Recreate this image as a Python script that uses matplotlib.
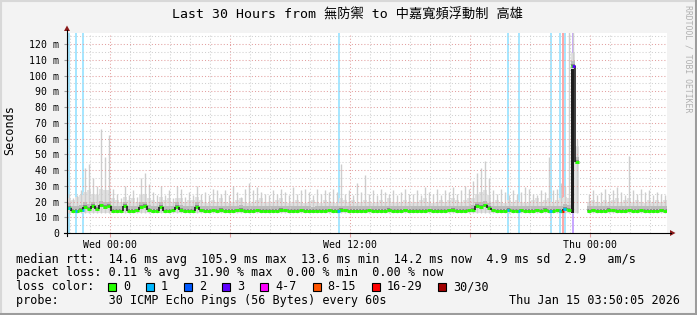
import numpy as np
import matplotlib
matplotlib.use('Agg')
import matplotlib.pyplot as plt
from matplotlib.lines import Line2D
from matplotlib.patches import Polygon, Rectangle

W, H = 697, 315

# time axis: hours relative to Wed 00:00, one bin = 12 minutes
start_hour = -2.15
bin_hours = 0.2

median_ms = [
    16.0, 14.2, 14.2, 14.5, 16.5, 15.5, 17.0, 15.0, 17.5, 16.5, 17.0, 14.2, 14.0, 14.2, 17.0, 14.2,
    14.0, 14.3, 16.5, 17.0, 14.5, 14.0, 14.2, 16.5, 14.2, 14.0, 14.3, 16.5, 14.5, 14.0, 14.2, 14.0,
    16.5, 14.3,
    14.2, 14.0, 14.3, 14.1, 14.4, 14.2, 14.0, 14.1, 14.3, 14.5, 14.2, 14.0, 14.1, 14.3, 14.2, 14.0,
    13.9, 14.1, 14.2, 14.4, 14.3, 14.1, 14.0, 14.2, 14.3, 14.1, 14.0, 13.8, 14.0, 14.2, 14.1, 14.3,
    14.2, 14.0, 14.4, 14.3, 14.1, 14.2, 14.0, 13.9, 14.1, 14.3, 14.2, 14.0, 14.1, 14.2, 14.4, 14.2,
    14.0, 14.1, 14.3, 14.2, 14.0, 13.9, 14.1, 14.2, 14.3, 14.1, 14.0, 14.2, 14.1, 14.3, 14.4, 14.2,
    14.0, 14.1, 14.3,
    14.5, 17.0, 16.5, 17.5, 16.0,
    14.3, 14.1, 14.2, 14.0, 14.4, 14.2, 14.1, 14.3, 14.2, 14.0, 14.1, 14.3, 14.2, 14.4, 14.1, 14.2,
    14.3, 14.0, 15.5, 14.5,
    106.0, 45.0, np.nan, np.nan,
    14.2, 14.3, 14.1, 14.0, 14.2, 14.4, 14.3, 14.1, 14.2, 14.0, 14.3, 14.2, 14.1, 14.3, 14.2, 14.0,
    14.2, 14.1, 14.3, 14.2,
]

smoke_mid_ms = [
    22, 21, 23, 24, 26, 27, 25, 24, 28, 27, 27, 22, 21, 20, 23, 21,
    22, 20, 24, 25, 22, 21, 20, 23, 21, 22, 20, 22, 22, 20, 21, 21,
    23, 21,
    20, 19, 21, 20, 22, 20, 19, 20, 21, 22, 20, 19, 20, 21, 22, 20,
    19, 20, 21, 22, 20, 19, 20, 21, 20, 19, 20, 21, 20, 19, 21, 20,
    20, 19, 22, 21, 20, 21, 19, 20, 21, 20, 19, 20, 21, 20, 22, 20,
    19, 20, 21, 20, 19, 20, 21, 22, 20, 19, 20, 21, 20, 21, 22, 21,
    20, 21, 22,
    22, 25, 26, 27, 24,
    20, 21, 20, 19, 21, 20, 21, 20, 19, 20, 21, 22, 20, 21, 22, 20,
    21, 22, 23, 22,
    114, 55, np.nan, np.nan,
    20, 21, 20, 19, 21, 20, 21, 22, 20, 21, 22, 20, 21, 20, 19, 21,
    20, 21, 20, 21,
]

smoke_max_ms = [
    25, 22, 24, 27, 41, 44, 35, 30, 66, 48, 62, 28, 25, 22, 30, 24,
    27, 23, 35, 38, 31, 26, 24, 30, 24, 27, 22, 30, 28, 23, 26, 24,
    30, 25,
    26, 24, 28, 27, 25, 27, 24, 30, 26, 23, 28, 32, 27, 29, 26, 25,
    24, 27, 25, 28, 26, 24, 29, 25, 27, 28, 26, 24, 28, 25, 27, 26,
    28, 26, 44, 25, 27, 24, 32, 26, 37, 25, 27, 24, 28, 26, 25, 27,
    24, 26, 28, 25, 25, 27, 24, 29, 26, 25, 28, 24, 27, 26, 29, 25,
    27, 30, 28,
    33, 38, 41, 46, 35,
    27, 25, 28, 26, 24, 27, 25, 26, 29, 28, 25, 24, 27, 26, 48, 27,
    28, 32, 30, 140,
    140, 60, np.nan, np.nan,
    25, 27, 24, 26, 28, 25, 27, 29, 26, 24, 49, 27, 25, 28, 26, 27,
    24, 26, 25, 24,
]
smoke_floor_ms = 12.5

# packet loss events: hour, loss colour index
loss_hours = [-2.05, -1.70, -1.35, 11.43, 19.90, 20.45, 22.03, 22.50, 22.65, 22.73, 23.17]
loss_level = [1, 1, 1, 1, 1, 1, 1, 1, 6, 1, 3]

loss_labels = ['0', '1', '2', '3', '4-7', '8-15', '16-29', '30/30']
loss_colors = ['#26ff00', '#00b8ff', '#0059ff', '#5e00ff', '#ff00ff', '#ff5500', '#ff0000', '#a10000']

xtick_hours = [0, 12, 24]
xtick_labels = ['Wed 00:00', 'Wed 12:00', 'Thu 00:00']

title = 'Last 30 Hours from 無防禦 to 中嘉寬頻浮動制 高雄'
legend_lines = [
    'median rtt:  14.6 ms avg  105.9 ms max  13.6 ms min  14.2 ms now  4.9 ms sd  2.9   am/s',
    'packet loss: 0.11 % avg  31.90 % max  0.00 % min  0.00 % now',
]
probe_text = 'probe:       30 ICMP Echo Pings (56 Bytes) every 60s'
stamp_text = 'Thu Jan 15 03:50:05 2026'

MONO = 'DejaVu Sans Mono'


def fx(x):
    return x / W


def fy(y):
    return 1 - y / H


def lighten(c, a=0.35):
    r, g, b = matplotlib.colors.to_rgb(c)
    return (1 - a + a * r, 1 - a + a * g, 1 - a + a * b)


def main():
    med = np.array(median_ms, dtype=float)
    mid = np.array(smoke_mid_ms, dtype=float)
    top = np.array(smoke_max_ms, dtype=float)
    n = len(med)
    t = start_hour + bin_hours * np.arange(n)
    ok = np.isfinite(med)

    fig = plt.figure(figsize=(W / 100, H / 100), dpi=100)
    fig.patch.set_facecolor('#f3f3f3')
    ax = fig.add_axes([fx(67), fy(233), 600 / W, 200 / H])
    ax.set_facecolor('white')
    ax.set_xlim(start_hour, start_hour + bin_hours * n)
    ax.set_ylim(0, 127)
    for s in ax.spines.values():
        s.set_visible(False)

    # loss background bars
    for h, lv in zip(loss_hours, loss_level):
        ax.axvspan(h - 0.05, h + 0.05, color=lighten(loss_colors[lv]), lw=0, zorder=0.5)

    # smoke
    ax.bar(t[ok], mid[ok] - smoke_floor_ms, bottom=smoke_floor_ms, width=bin_hours,
           align='edge', color='#e2e2e2', lw=0, zorder=1)
    ax.vlines(t[ok] + bin_hours / 2, smoke_floor_ms, top[ok], colors='#cdcdcd', lw=1.0, zorder=1.1)
    ax.bar(t[ok], 4.0, bottom=med[ok] - 1.0, width=bin_hours, align='edge',
           color='#bcbcbc', lw=0, zorder=1.2)
    ax.bar(t[ok], 1.4, bottom=med[ok] - 0.2, width=bin_hours, align='edge',
           color='#8a8a8a', lw=0, zorder=1.3)

    # grid, rrdtool style
    for h in range(-2, 28):
        c = '#e3a0a0' if h % 6 == 0 else '#d0d0d0'
        ax.axvline(h, color=c, lw=0.75, ls=(0, (1, 2)), zorder=2)
    for v in range(5, 127, 5):
        c = '#e3a0a0' if v % 10 == 0 else '#d0d0d0'
        ax.axhline(v, color=c, lw=0.75, ls=(0, (1, 2)), zorder=2)

    # median line: green steps with dark risers
    for i in range(1, n):
        if ok[i] and ok[i - 1] and abs(med[i] - med[i - 1]) > 1.0:
            lo, hi = sorted((med[i - 1], med[i]))
            if med[i] - med[i - 1] > 20:
                # dense burst: draw the riser as a solid dark column
                ax.bar(t[i], hi - lo, bottom=lo - 2, width=0.16, align='edge',
                       color='#1e1e1e', lw=0, zorder=2.9)
            else:
                ax.vlines(t[i], lo, hi, colors='#1e1e1e', lw=1.2, zorder=3.1)
    ax.hlines(med[ok], t[ok], t[ok] + bin_hours, colors=loss_colors[0], lw=2.1, zorder=3)
    for h, lv in zip(loss_hours, loss_level):
        i = int((h - start_hour) / bin_hours)
        if ok[i]:
            ax.hlines(med[i], h - 0.06, h + 0.06, colors=loss_colors[lv], lw=2.1, zorder=3.2)

    # ticks
    ax.set_yticks(range(0, 121, 10))
    ax.set_yticklabels(['0'] + ['%d m' % v for v in range(10, 121, 10)])
    ax.set_xticks(range(0, 28, 6))
    ax.set_xticklabels([xtick_labels[xtick_hours.index(h)] if h in xtick_hours else ''
                        for h in range(0, 28, 6)])
    ax.tick_params(axis='y', length=2, color='#a0a0a0', pad=3.6, labelsize=7.1)
    ax.tick_params(axis='x', length=3, color='#e3a0a0', pad=2.0, labelsize=7.1)
    for lab in ax.get_xticklabels() + ax.get_yticklabels():
        lab.set_family(MONO)

    # axes with arrows
    fig.add_artist(Line2D([fx(67), fx(67)], [fy(236), fy(30)], color='black', lw=0.8))
    fig.add_artist(Line2D([fx(64), fx(671)], [fy(233), fy(233)], color='black', lw=0.8))
    fig.add_artist(Polygon([(fx(64), fy(31)), (fx(70), fy(31)), (fx(67), fy(25.5))],
                           closed=True, color='#8b1a1a', lw=0))
    fig.add_artist(Polygon([(fx(670), fy(230)), (fx(670), fy(236)), (fx(675.5), fy(233))],
                           closed=True, color='#8b1a1a', lw=0))

    # texts
    fig.text(fx(348), fy(15), title, ha='center', va='center', fontsize=9.5,
             family=[MONO, 'Noto Sans CJK TC'])
    fig.text(fx(10), fy(130), 'Seconds', rotation=90, ha='center', va='center',
             fontsize=8.5, family=MONO)
    fig.text(fx(688), fy(5), 'RRDTOOL / TOBI OETIKER', rotation=-90, ha='center', va='top',
             fontsize=5.9, family=MONO, color='#b0b0b0')

    ys = [259, 272.5, 286.5, 300.5]
    for y, s in zip(ys[:2], legend_lines):
        fig.text(fx(16), fy(y), s, ha='left', va='center', fontsize=8.5, family=MONO)
    fig.text(fx(16), fy(ys[2]), 'loss color:', ha='left', va='center', fontsize=8.5, family=MONO)
    cw = 7.08
    x = 108
    for lab, c in zip(loss_labels, loss_colors):
        fig.add_artist(Rectangle((fx(x), fy(ys[2] + 4)), 8 / W, 8 / H, facecolor=c,
                                 edgecolor='black', lw=0.8))
        fig.text(fx(x + 15), fy(ys[2]), lab, ha='left', va='center', fontsize=8.5, family=MONO)
        x = x + 15 + len(lab) * cw + 16
    fig.text(fx(16), fy(ys[3]), probe_text, ha='left', va='center', fontsize=8.5, family=MONO)
    fig.text(fx(680), fy(ys[3]), stamp_text, ha='right', va='center', fontsize=8.5, family=MONO)

    # bevel frame
    fig.add_artist(Line2D([0, 1], [fy(0.5), fy(0.5)], color='#d8d8d8', lw=1.5))
    fig.add_artist(Line2D([fx(0.5), fx(0.5)], [0, 1], color='#d8d8d8', lw=1.5))
    fig.add_artist(Line2D([0, 1], [fy(314), fy(314)], color='#9c9c9c', lw=2.2))
    fig.add_artist(Line2D([fx(696), fx(696)], [0, 1], color='#9c9c9c', lw=2.2))

    fig.savefig('out.png', dpi=100, facecolor=fig.get_facecolor())
    plt.close(fig)


if __name__ == '__main__':
    main()
